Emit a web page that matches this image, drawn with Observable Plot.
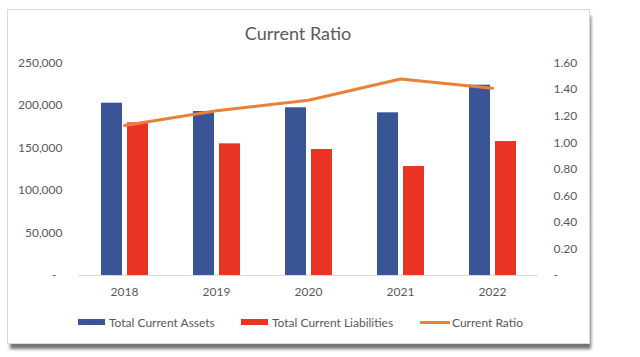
<!DOCTYPE html>
<html>
<head>
<meta charset="utf-8">
<script src="https://cdn.jsdelivr.net/npm/d3@7"></script>
<script src="https://cdn.jsdelivr.net/npm/@observablehq/plot@0.6"></script>
<style>
  html, body { margin: 0; padding: 0; background: #fff; width: 640px; height: 357px; overflow: hidden; }
  body { position: relative; font-family: Lato, "Open Sans", sans-serif; color: #595959; }
  #frame { position: absolute; left: 7px; top: 9px; width: 581px; height: 333px; border: 1px solid #d9d9d9; background: #fff;
           box-shadow: 2px 6px 3px -1px rgba(0,0,0,0.55); }
  #title { position: absolute; left: 7px; width: 582px; top: 22px; text-align: center; font-size: 18px; color: #595959; }
  #chart { position: absolute; left: 0; top: 0; }
  .leg { position: absolute; top: 314px; height: 16px; display: flex; align-items: center; font-size: 12px; color: #595959; white-space: nowrap; }
  .sw { display: inline-block; margin-right: 4px; }
</style>
</head>
<body>
<div id="frame"></div>
<div id="title">Current Ratio</div>
<div id="chart"></div>
<div id="legend"></div>
<script>
const years = ["2018", "2019", "2020", "2021", "2022"];
const totalCurrentAssets = [202700, 192900, 197300, 191400, 223900];
const totalCurrentLiabilities = [179600, 154900, 148200, 128200, 157600];
const currentRatio = [1.13, 1.24, 1.32, 1.48, 1.41];
const leftTicks = [0, 50000, 100000, 150000, 200000, 250000];
const rightTicks = [0, 0.2, 0.4, 0.6, 0.8, 1.0, 1.2, 1.4, 1.6];
const seriesNames = ["Total Current Assets", "Total Current Liabilities", "Current Ratio"];
const colors = ["#3A5595", "#E93323", "#E8823A"];

// secondary axis maps ratio range [0, 1.6] onto amount range [0, 250000]
const K = 250000 / 1.6;

const rows = years.map((y, i) => ({
  year: y,
  assets: totalCurrentAssets[i],
  liabilities: totalCurrentLiabilities[i],
  ratio: currentRatio[i],
  ratioScaled: currentRatio[i] * K
}));

const fmtLeft = d => d === 0 ? "-\u00a0\u00a0" : d3.format(",")(d);
const fmtRight = d => { const r = d / K; return Math.abs(r) < 1e-9 ? "-" : r.toFixed(2); };

const chart = Plot.plot({
  width: 640,
  height: 300,
  marginLeft: 78,
  marginRight: 102,
  marginTop: 62.5,
  marginBottom: 25,
  style: { background: "transparent", fontFamily: "Lato, 'Open Sans', sans-serif", fontSize: "12px", color: "#595959" },
  x: { type: "band", domain: years, padding: 0, label: null },
  y: { domain: [0, 250000], label: null },
  marks: [
    Plot.axisX({ tickSize: 0, tickPadding: 12, label: null, fill: "#595959" }),
    Plot.axisY(leftTicks, { anchor: "left", tickSize: 0, tickPadding: 16, tickFormat: fmtLeft, label: null, fill: "#595959" }),
    Plot.axisY(rightTicks.map(r => r * K), { anchor: "right", tickSize: 0, tickPadding: 15, tickFormat: fmtRight, label: null, fill: "#595959" }),
    Plot.ruleY([0], { stroke: "#d9d9d9", strokeWidth: 1 }),
    Plot.barY(rows, { x: "year", y: "assets", fill: colors[0], insetLeft: 23, insetRight: 48 }),
    Plot.barY(rows, { x: "year", y: "liabilities", fill: colors[1], insetLeft: 49, insetRight: 22 }),
    Plot.lineY(rows, { x: "year", y: "ratioScaled", stroke: colors[2], strokeWidth: 3, strokeLinejoin: "round" })
  ]
});
document.getElementById("chart").appendChild(chart);

// legend
const legend = document.getElementById("legend");
const lefts = [78, 241, 420];
seriesNames.forEach((name, i) => {
  const item = document.createElement("div");
  item.className = "leg";
  item.style.left = lefts[i] + "px";
  const sw = document.createElement("span");
  sw.className = "sw";
  if (i < 2) { sw.style.width = "27px"; sw.style.height = "6px"; }
  else { sw.style.width = "30px"; sw.style.height = "3px"; sw.style.marginRight = "2px"; }
  sw.style.background = colors[i];
  item.appendChild(sw);
  item.appendChild(document.createTextNode(name));
  legend.appendChild(item);
});
</script>
</body>
</html>
